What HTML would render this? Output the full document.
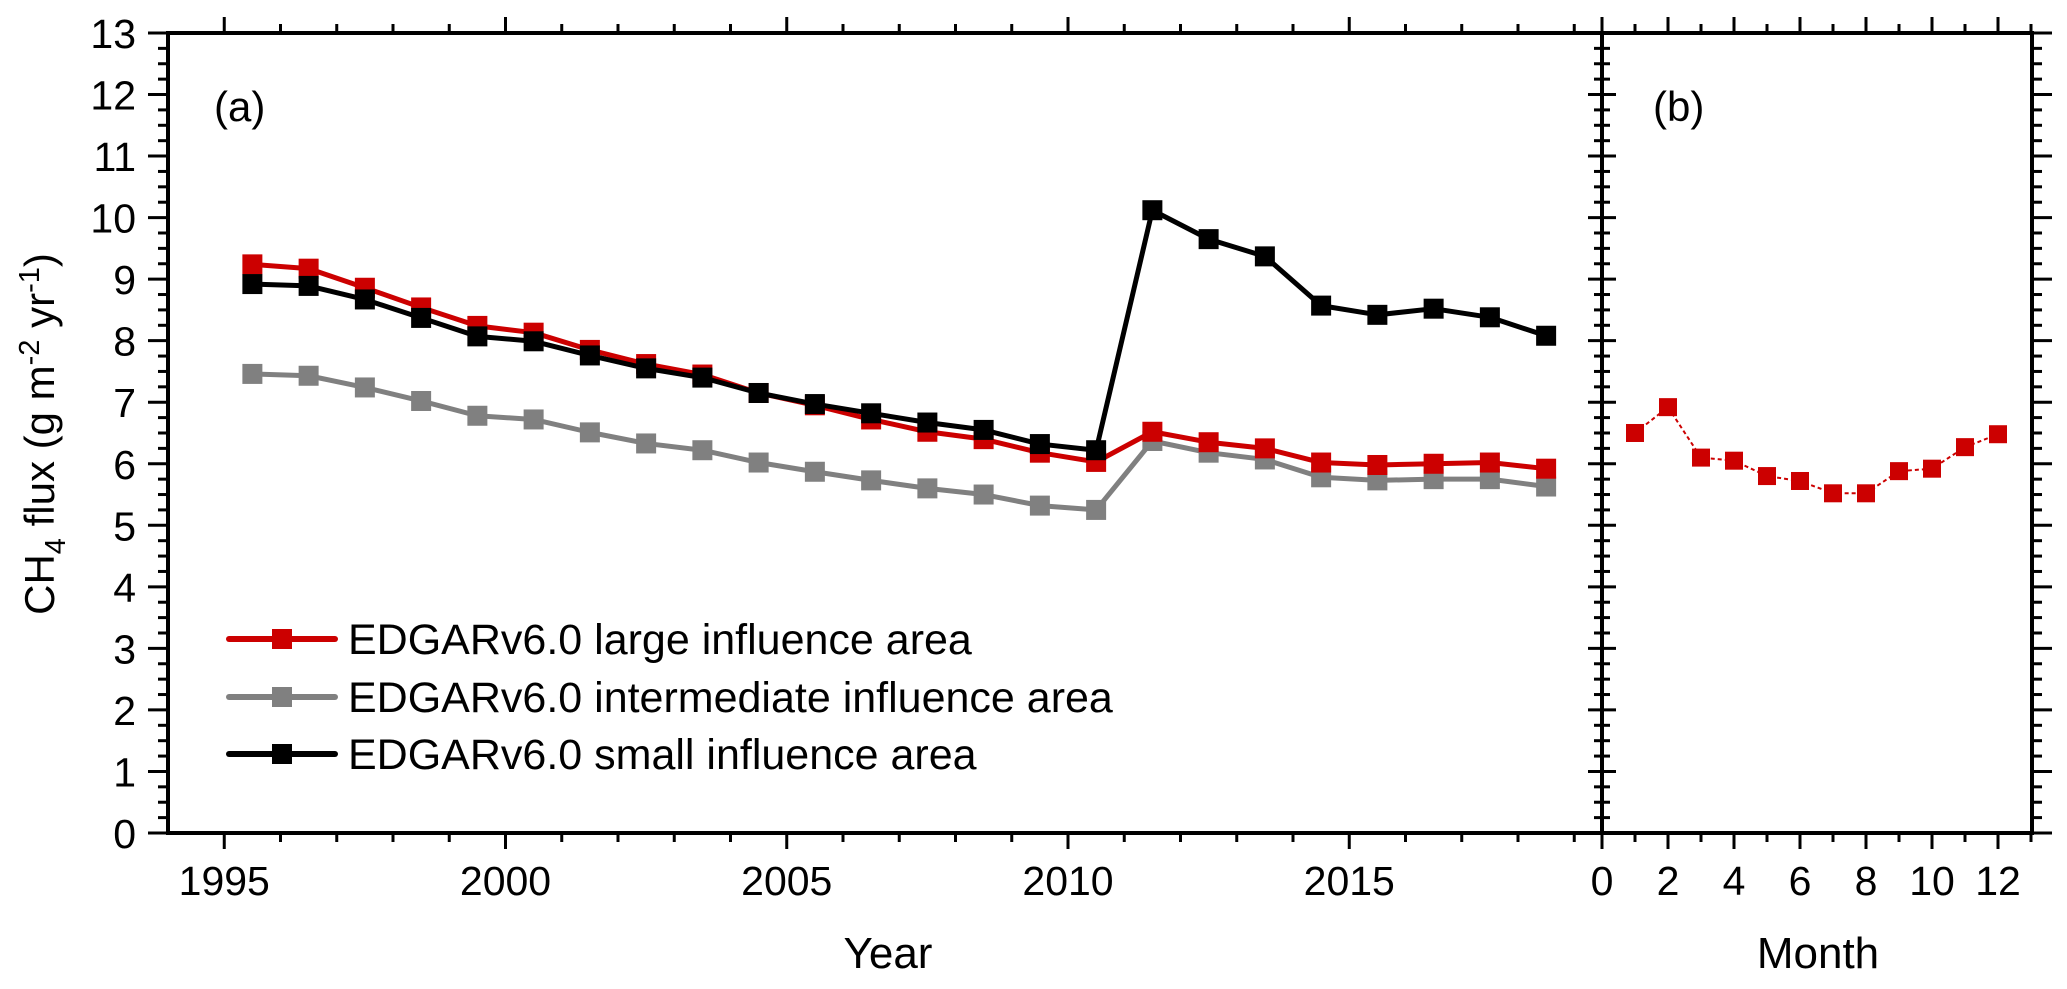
<!DOCTYPE html>
<html><head><meta charset="utf-8"><style>
html,body{margin:0;padding:0;background:#fff;}
svg{display:block;font-family:"Liberation Sans",Arial,sans-serif;}
</style></head><body>
<svg id="chart" width="2067" height="989" viewBox="0 0 2067 989" xmlns="http://www.w3.org/2000/svg">
<g id="axes"></g>
<g id="marks"></g>
<text x="214" y="121" font-size="42">(a)</text>
<text x="1653" y="121" font-size="42">(b)</text>
<text x="888" y="968" font-size="44" text-anchor="middle">Year</text>
<text x="1818" y="968" font-size="44" text-anchor="middle">Month</text>
<text transform="translate(54,434) rotate(-90)" font-size="42" text-anchor="middle">CH<tspan font-size="29" dy="11">4</tspan><tspan dy="-11"> flux (g m</tspan><tspan font-size="29" dy="-15">-2</tspan><tspan dy="15"> yr</tspan><tspan font-size="29" dy="-15">-1</tspan><tspan dy="15">)</tspan></text>
<g id="legend"></g>
</svg>
<script>
const years = [1995.5,1996.5,1997.5,1998.5,1999.5,2000.5,2001.5,2002.5,2003.5,2004.5,2005.5,2006.5,2007.5,2008.5,2009.5,2010.5,2011.5,2012.5,2013.5,2014.5,2015.5,2016.5,2017.5,2018.5];
const largeArea = [9.24,9.17,8.86,8.54,8.24,8.13,7.85,7.62,7.45,7.15,6.95,6.72,6.52,6.40,6.18,6.03,6.52,6.35,6.25,6.02,5.98,6.00,6.02,5.92];
const intermediateArea = [7.46,7.43,7.24,7.02,6.78,6.72,6.51,6.33,6.22,6.02,5.87,5.73,5.60,5.50,5.32,5.25,6.37,6.18,6.07,5.78,5.73,5.75,5.75,5.63];
const smallArea = [8.92,8.89,8.67,8.37,8.07,7.99,7.76,7.55,7.40,7.15,6.97,6.82,6.67,6.55,6.32,6.22,10.12,9.65,9.37,8.57,8.42,8.52,8.38,8.08];
const months = [1,2,3,4,5,6,7,8,9,10,11,12];
const monthly = [6.50,6.92,6.10,6.05,5.80,5.72,5.52,5.52,5.88,5.92,6.27,6.48];
const yTicks = [0,1,2,3,4,5,6,7,8,9,10,11,12,13];
const yearTicks = [1995,2000,2005,2010,2015];
const monthTicks = [0,2,4,6,8,10,12];
const seriesNames = ["EDGARv6.0 large influence area","EDGARv6.0 intermediate influence area","EDGARv6.0 small influence area"];

const NS="http://www.w3.org/2000/svg";
const L=168, D=1602, R=2032, T=33, B=833;
const X0=1994, X1=1994+(D-L)/56.25;
function xs(v){return L+(v-X0)*56.25;}
function xm(v){return D+v*33;}
function ys(v){return B-v*61.54;}
function mk(tag,attrs,parent){const e=document.createElementNS(NS,tag);for(const k in attrs)e.setAttribute(k,attrs[k]);parent.appendChild(e);return e;}
const axes=document.getElementById('axes'), marks=document.getElementById('marks'), legend=document.getElementById('legend');
function ln(x1,y1,x2,y2,w,p){return mk('line',{x1:x1,y1:y1,x2:x2,y2:y2,stroke:'#000','stroke-width':w},p);}

let fr=mk('rect',{x:L,y:T,width:R-L,height:B-T,fill:'none',stroke:'#000','stroke-width':4},axes);


let dv=ln(D,T,D,B,4,axes);



for(let v=0;v<=13.001;v+=0.25){
  const y=ys(v), major=Math.abs(v-Math.round(v))<1e-6;
  const len=major?20:10;
  ln(L-len,y,L,y,3,axes);
  ln(D-(major?14:8),y,D+(major?14:8),y,3,axes);
  ln(R,y,R+len,y,3,axes);
}
yTicks.forEach(v=>{
  const t=mk('text',{x:136,y:ys(v)+15,'font-size':41,'text-anchor':'end'},axes);
  t.textContent=v;
  
  
});
for(let yr=1995;yr<X1;yr+=1){
  const x=xs(yr), major=(yr%5===0);
  ln(x,B,x,B+(major?16:9),3,axes);
  ln(x,T,x,T-(major?16:9),3,axes);
}
yearTicks.forEach(v=>{
  const t=mk('text',{x:xs(v),y:895,'font-size':41,'text-anchor':'middle'},axes);
  t.textContent=v;
  
  
});
for(let m=1;m<=13;m++){
  const x=xm(m), major=(m%2===0)&&m<=12;
  ln(x,B,x,B+(major?16:9),3,axes);
  ln(x,T,x,T-(major?16:9),3,axes);
}
ln(D,B,D,B+16,3,axes); ln(D,T,D,T-16,3,axes);
monthTicks.forEach(v=>{
  const t=mk('text',{x:xm(v),y:895,'font-size':41,'text-anchor':'middle'},axes);
  t.textContent=v;
  
  
});

const cols=['#cc0000','#808080','#000000'];
const sets=[largeArea,intermediateArea,smallArea];
const order=[1,0,2];
order.forEach(i=>{
  const vals=sets[i];
  const pts=years.map((yr,j)=>xs(yr)+','+ys(vals[j])).join(' ');
  const pl=mk('polyline',{points:pts,fill:'none',stroke:cols[i],'stroke-width':5,'stroke-linejoin':'round','stroke-linecap':'round'},marks);
  
  
  years.forEach((yr,j)=>{
    const r=mk('rect',{x:xs(yr)-10,y:ys(vals[j])-10,width:20,height:20,fill:cols[i]},marks);
    
    
  });
});
const mpts=months.map((m,j)=>xm(m)+','+ys(monthly[j])).join(' ');
const mpl=mk('polyline',{points:mpts,fill:'none',stroke:'#cc0000','stroke-width':2,'stroke-dasharray':'4,3'},marks);


months.forEach((m,j)=>{
  const r=mk('rect',{x:xm(m)-9,y:ys(monthly[j])-9,width:18,height:18,fill:'#cc0000'},marks);
  
  
});

const ly=[639,697,754];
seriesNames.forEach((n,i)=>{
  const g=mk('g',{},legend);
  
  
  mk('line',{x1:229,y1:ly[i],x2:335,y2:ly[i],stroke:cols[i],'stroke-width':6,'stroke-linecap':'round'},g);
  mk('rect',{x:272,y:ly[i]-10,width:20,height:20,fill:cols[i]},g);
  const t=mk('text',{x:348,y:ly[i]+15,'font-size':43},g);
  t.textContent=n;
});
</script>
</body></html>
